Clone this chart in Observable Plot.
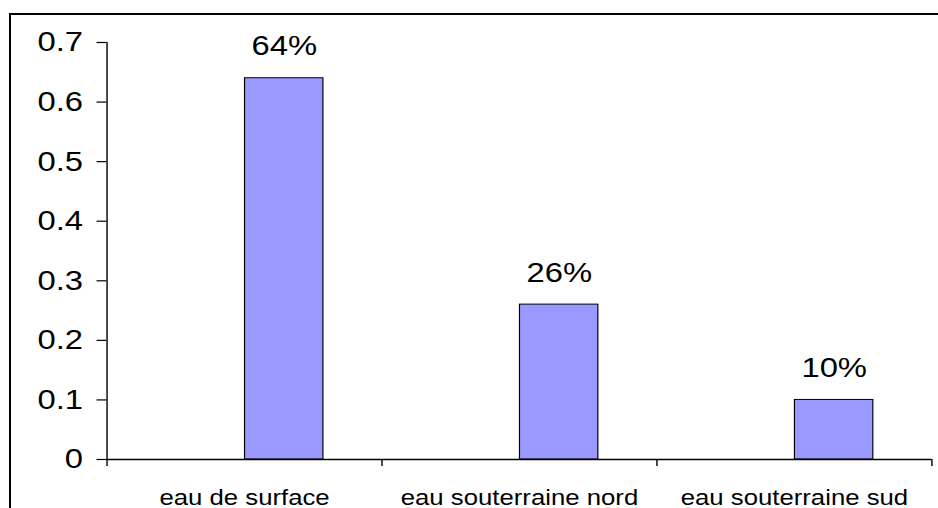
<!DOCTYPE html>
<html><head><meta charset="utf-8">
<script src="https://cdn.jsdelivr.net/npm/d3@7"></script>
<script src="https://cdn.jsdelivr.net/npm/@observablehq/plot@0.6"></script>
<style>
html,body{margin:0;padding:0;overflow:hidden;width:938px;height:508px;background:#fff;}
#frame{position:absolute;left:9px;top:13px;width:1000px;height:600px;border-top:2px solid #000;border-left:2px solid #000;}
#chart{position:absolute;left:0;top:0;transform:scaleX(1.17);transform-origin:0 0;}
</style></head><body><div id="frame"></div><div id="chart"></div>
<script>
const categories = ["eau de surface", "eau souterraine nord", "eau souterraine sud"];
const shares = [0.64, 0.26, 0.10];
const shareLabels = ["64%", "26%", "10%"];
const yTicks = [0, 0.1, 0.2, 0.3, 0.4, 0.5, 0.6, 0.7];

const data = categories.map((c, i) => ({category: c, share: shares[i], label: shareLabels[i]}));
const W = 802, H = 508, ML = 91, MR = 6, MT = 42, MB = 49;
const bw = (W - ML - MR) / categories.length;
const inL = 118, inR = 50;
const plot = Plot.plot({
  width: W, height: H, marginLeft: ML, marginRight: MR, marginTop: MT, marginBottom: MB,
  style: {fontFamily: "'Liberation Sans', Arial, sans-serif", background: "transparent", color: "#000", overflow: "visible"},
  x: {type: "band", domain: categories, padding: 0, label: null},
  y: {domain: [0, 0.7], label: null},
  marks: [
    Plot.barY(data, {x: "category", y: "share", fill: "#9999ff", stroke: "#000", strokeWidth: 1, insetLeft: inL, insetRight: inR}),
    Plot.text(data, {x: "category", y: "share", text: "label", dx: (inL - inR) / 2, dy: -32, fontSize: 28, fill: "#000"}),
    Plot.ruleY([0], {stroke: "#000", strokeWidth: 1.3}),
    Plot.ruleX([categories[0]], {dx: -bw / 2, stroke: "#000", strokeWidth: 1.2}),
    Plot.ruleX(categories, {dx: -bw / 2, insetTop: H - MT - MB, insetBottom: -7, stroke: "#000", strokeWidth: 1.2}),
    Plot.ruleX([categories[categories.length - 1]], {dx: bw / 2, insetTop: H - MT - MB, insetBottom: -7, stroke: "#000", strokeWidth: 1.2}),
    Plot.axisY({ticks: yTicks, tickFormat: d => String(d), tickSize: 8.5, tickPadding: 12, fontSize: 28, label: null, stroke: "#000", strokeWidth: 1.2}),
    Plot.axisX({tickSize: 0, tickPadding: 30, fontSize: 22, label: null})
  ]
});
document.getElementById("chart").appendChild(plot);
</script>
</body></html>
